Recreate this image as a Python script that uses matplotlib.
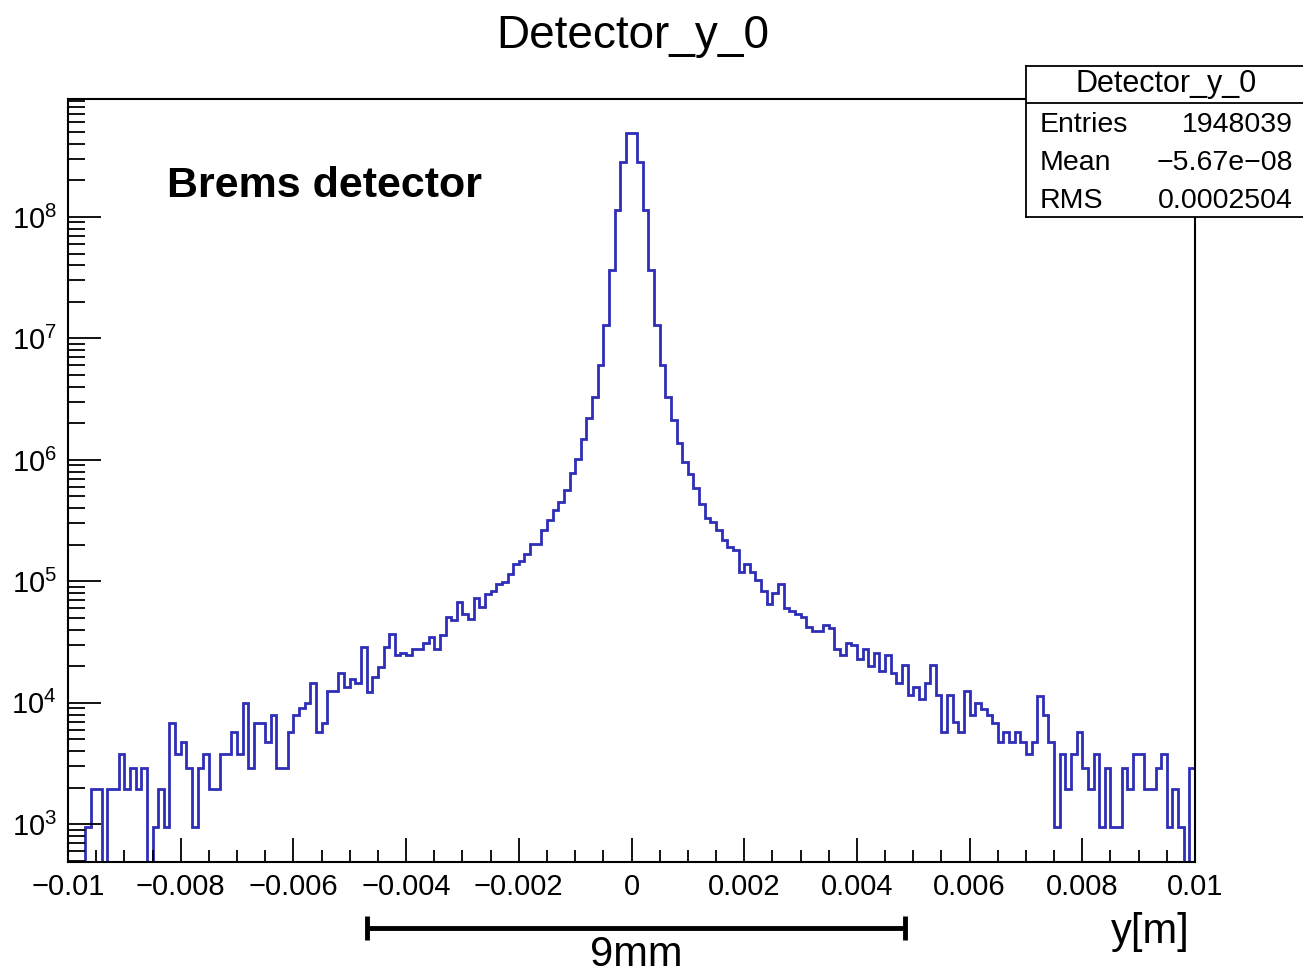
import numpy as np
import matplotlib
matplotlib.use("Agg")
import matplotlib.pyplot as plt
import matplotlib.ticker as mticker
import matplotlib.transforms as mtransforms

plt.rcParams['font.family'] = ['Liberation Sans', 'DejaVu Sans']
plt.rcParams['mathtext.fontset'] = 'custom'
plt.rcParams['mathtext.rm'] = 'Liberation Sans'
plt.rcParams['mathtext.it'] = 'Liberation Sans:italic'
plt.rcParams['mathtext.bf'] = 'Liberation Sans:bold'

# binning of the histogram
x_min, x_max, n_bins = -0.01, 0.01, 200

# bin contents, left to right
counts = [
    0, 0, 0, 960, 1950, 1950, 0, 1950, 1950, 3800,
    1950, 2900, 1950, 2900, 0, 960, 1950, 960, 6800, 3800,
    4800, 2900, 960, 2900, 3800, 1950, 1950, 3800, 3800, 5800,
    3800, 9900, 2900, 6800, 6800, 4800, 7900, 2900, 2900, 5800,
    7900, 9000, 9900, 14700, 5800, 6800, 12600, 12600, 17600, 13600,
    15700, 14500, 29100, 12400, 16300, 19900, 29100, 36800, 24700, 25900,
    24700, 28000, 28000, 31400, 35100, 27700, 36300, 51300, 48200, 67400,
    53700, 49200, 72700, 62000, 78900, 84000, 95400, 98500, 115000, 139000,
    148000, 168000, 204000, 204000, 265000, 321000, 388000, 454000, 566000, 777000,
    1.01e6, 1.48e6, 2.22e6, 3.30e6, 6.05e6, 1.29e7, 3.66e7, 1.14e8, 2.85e8, 4.89e8,
    4.89e8, 2.85e8, 1.14e8, 3.66e7, 1.29e7, 6.05e6, 3.32e6, 2.15e6, 1.37e6, 9.68e5,
    7.71e5, 5.85e5, 4.33e5, 3.31e5, 3.11e5, 2.65e5, 2.20e5, 1.93e5, 1.82e5, 1.19e5,
    1.39e5, 1.19e5, 1.02e5, 84000, 65300, 80900, 94800, 60200, 57500, 53700,
    51300, 42500, 39400, 39400, 44100, 41200, 27700, 24800, 31400, 30000,
    22900, 27800, 20300, 25900, 18300, 24700, 17600, 14500, 20600, 11600,
    13500, 10800, 14600, 20600, 11600, 5800, 11600, 6900, 5800, 12600,
    7900, 9900, 8900, 7900, 6800, 4800, 5800, 4800, 5800, 4800,
    3800, 4800, 11500, 7900, 4800, 960, 3800, 1950, 3800, 5800,
    2900, 1950, 3800, 960, 2900, 960, 960, 2900, 1950, 3800,
    3800, 1950, 1950, 2900, 3800, 960, 1950, 960, 0, 2900,
]

x_ticks = [-0.01, -0.008, -0.006, -0.004, -0.002, 0, 0.002, 0.004, 0.006, 0.008, 0.01]
x_tick_labels = ["\u22120.01", "\u22120.008", "\u22120.006", "\u22120.004", "\u22120.002",
                 "0", "0.002", "0.004", "0.006", "0.008", "0.01"]
y_limits = (490, 9.35e8)

stats_title = "Detector_y_0"
stats_rows = [("Entries", "1948039"), ("Mean", "\u22125.67e\u221208"), ("RMS", "0.0002504")]

# scale bar under the axis (in y[m])
bar_left, bar_right = -0.0047, 0.00486

line_color = "#2e2eb8"

fig = plt.figure(figsize=(13.03, 9.75), dpi=100)
ax = fig.add_axes([68 / 1303, 1 - 862 / 975, (1195 - 68) / 1303, (862 - 99) / 975])

edges = np.linspace(x_min, x_max, n_bins + 1)
ax.stairs(np.array(counts, dtype=float), edges, baseline=None,
          color=line_color, linewidth=2.0)

ax.set_yscale('log', nonpositive='clip')
ax.set_xlim(x_min, x_max)
ax.set_ylim(*y_limits)

ax.set_xticks(x_ticks)
ax.set_xticklabels(x_tick_labels)
ax.xaxis.set_minor_locator(mticker.MultipleLocator(0.0005))
ax.yaxis.set_major_locator(mticker.LogLocator(base=10, numticks=20))
ax.yaxis.set_minor_locator(mticker.LogLocator(base=10, subs=np.arange(2, 10), numticks=20))
ax.yaxis.set_minor_formatter(mticker.NullFormatter())

ax.tick_params(axis='x', which='major', direction='in', length=17, width=1.3, labelsize=21, pad=8)
ax.tick_params(axis='x', which='minor', direction='in', length=9, width=1.3)
ax.tick_params(axis='y', which='major', direction='in', length=24, width=1.3, labelsize=21, pad=8)
ax.tick_params(axis='y', which='minor', direction='in', length=12.5, width=1.3)
for sp in ax.spines.values():
    sp.set_linewidth(1.5)

ax.text(167 / 1303, 1 - 197 / 975, "Brems detector", transform=fig.transFigure,
        fontsize=31, fontweight='bold', ha='left', va='baseline')

fig.text(633 / 1303, 1 - 48 / 975, "Detector_y_0", fontsize=33, ha='center', va='baseline')

fig.text(1190 / 1303, 1 - 932 / 975, "y[m]", fontsize=30, ha='right', va='center')

# stats box
sax = fig.add_axes([1026 / 1303, 1 - 217 / 975, (1315 - 1026) / 1303, (217 - 66) / 975])
sax.set_xlim(1026, 1315)
sax.set_ylim(217, 66)
sax.set_xticks([])
sax.set_yticks([])
sax.set_facecolor("white")
for sp in sax.spines.values():
    sp.set_linewidth(1.3)
sax.axhline(103, color="black", linewidth=1.3)
sax.text(1166, 84, stats_title, fontsize=22, ha='center', va='center')
for (name, val), yy in zip(stats_rows, [125, 163, 201]):
    sax.text(1040, yy, name, fontsize=20.5, ha='left', va='center')
    sax.text(1293, yy, val, fontsize=20.5, ha='right', va='center')

# scale bar with end caps
trans = mtransforms.blended_transform_factory(ax.transData, fig.transFigure)
bar_y = 1 - 928 / 975
cap_lo, cap_hi = 1 - 940 / 975, 1 - 916 / 975
ax.plot([bar_left, bar_right], [bar_y, bar_y], color="black", linewidth=3.5,
        transform=trans, clip_on=False, solid_capstyle='butt')
for xb in (bar_left, bar_right):
    ax.plot([xb, xb], [cap_lo, cap_hi], color="black", linewidth=3.5,
            transform=trans, clip_on=False, solid_capstyle='butt')
ax.text((bar_left + bar_right) / 2, 1 - 955 / 975, "9mm", transform=trans,
        fontsize=30, ha='center', va='center')

fig.savefig("out.png", dpi=100)
